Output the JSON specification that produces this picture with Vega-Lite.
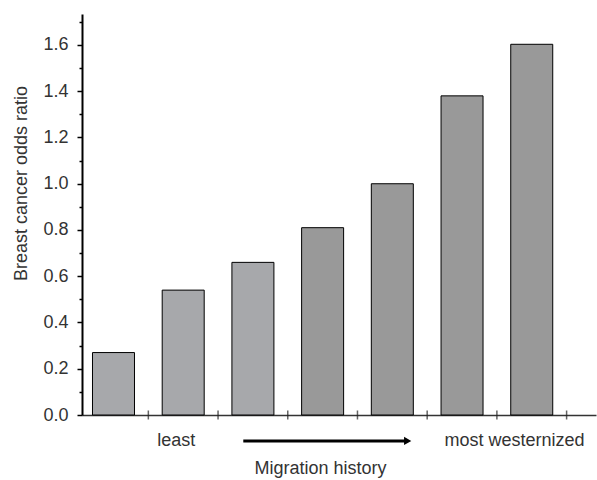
{
  "$schema": "https://vega.github.io/schema/vega-lite/v6.json",
  "width": 514,
  "height": 401,
  "autosize": {"type": "none"},
  "padding": {"left": 82, "top": 14, "right": 1, "bottom": 65},
  "background": "white",
  "config": {"view": {"stroke": null}, "font": "Liberation Sans"},
  "datasets": {
    "bars": [
      {"pos": 1, "ratio": 0.27, "tone": "light"},
      {"pos": 2, "ratio": 0.54, "tone": "light"},
      {"pos": 3, "ratio": 0.66, "tone": "light"},
      {"pos": 4, "ratio": 0.81, "tone": "dark"},
      {"pos": 5, "ratio": 1.0, "tone": "dark"},
      {"pos": 6, "ratio": 1.38, "tone": "dark"},
      {"pos": 7, "ratio": 1.603, "tone": "dark"}
    ],
    "xticks": [
      {"t": 1.5}, {"t": 2.5}, {"t": 3.5}, {"t": 4.5}, {"t": 5.5}, {"t": 6.5}, {"t": 7.5}
    ],
    "minor": [
      {"m": 0.1}, {"m": 0.3}, {"m": 0.5}, {"m": 0.7}, {"m": 0.9}, {"m": 1.1}, {"m": 1.3}, {"m": 1.5}, {"m": 1.7}
    ],
    "labels": [
      {"lx": 1.9, "ly": -0.133, "txt": "least"},
      {"lx": 6.753, "ly": -0.133, "txt": "most westernized"}
    ],
    "arrow": [
      {"a1": 2.862, "a2": 5.2, "ay": -0.112}
    ],
    "head": [
      {"hx": 5.22, "hy": -0.112}
    ]
  },
  "resolve": {"scale": {"y": "shared"}, "axis": {"y": "independent"}},
  "layer": [
    {
      "data": {"name": "bars"},
      "mark": {"type": "bar", "width": 42, "stroke": "black", "strokeWidth": 1},
      "encoding": {
        "x": {
          "field": "pos", "type": "quantitative",
          "scale": {"domain": [0.62, 7.85], "nice": false, "zero": false},
          "axis": {
            "title": "Migration history",
            "ticks": false, "labels": false, "grid": false,
            "domainColor": "#333", "domainWidth": 1.5,
            "titleFont": "Liberation Sans", "titleFontSize": 18, "titleFontWeight": "normal",
            "titleColor": "#333", "titleX": 238, "titleY": 58, "titleBaseline": "alphabetic"
          }
        },
        "y": {
          "field": "ratio", "type": "quantitative",
          "scale": {"domain": [0, 1.734], "nice": false, "zero": true},
          "axis": {
            "orient": "left",
            "values": [0, 0.2, 0.4, 0.6, 0.8, 1.0, 1.2, 1.4, 1.6],
            "format": ".1f", "grid": false,
            "tickSize": 5, "tickColor": "black", "tickWidth": 1.5,
            "domainColor": "black", "domainWidth": 2,
            "labelFont": "Liberation Sans", "labelFontSize": 18, "labelColor": "#333", "labelPadding": 9,
            "title": "Breast cancer odds ratio",
            "titleFont": "Liberation Sans", "titleFontSize": 18, "titleFontWeight": "normal", "titleColor": "#333",
            "titleX": -61, "titleY": 169, "titleBaseline": "middle", "titleAlign": "center", "titleAngle": -90
          }
        },
        "color": {
          "field": "tone", "type": "nominal",
          "scale": {"domain": ["light", "dark"], "range": ["#a7a8ab", "#999999"]},
          "legend": null
        }
      }
    },
    {
      "data": {"name": "minor"},
      "mark": {"type": "point", "opacity": 0},
      "encoding": {
        "y": {
          "field": "m", "type": "quantitative",
          "scale": {"domain": [0, 1.734], "nice": false, "zero": true},
          "axis": {
            "orient": "left", "values": [0.1, 0.3, 0.5, 0.7, 0.9, 1.1, 1.3, 1.5, 1.7],
            "labels": false, "domain": false, "grid": false, "title": null,
            "tickSize": 3, "tickColor": "black", "tickWidth": 1.5
          }
        }
      }
    },
    {
      "data": {"name": "xticks"},
      "mark": {"type": "tick", "orient": "vertical", "size": 9, "thickness": 1.5, "color": "#222"},
      "encoding": {
        "x": {"field": "t", "type": "quantitative", "scale": {"domain": [0.62, 7.85], "nice": false, "zero": false}},
        "y": {"datum": 0, "type": "quantitative", "scale": {"domain": [0, 1.734], "nice": false, "zero": true}, "axis": null}
      }
    },
    {
      "data": {"name": "labels"},
      "mark": {"type": "text", "font": "Liberation Sans", "fontSize": 18, "color": "#333", "baseline": "alphabetic", "align": "center"},
      "encoding": {
        "x": {"field": "lx", "type": "quantitative", "scale": {"domain": [0.62, 7.85], "nice": false, "zero": false}},
        "y": {"field": "ly", "type": "quantitative", "scale": {"domain": [0, 1.734], "nice": false, "zero": true}, "axis": null},
        "text": {"field": "txt"}
      }
    },
    {
      "data": {"name": "arrow"},
      "mark": {"type": "rule", "strokeWidth": 3, "color": "black"},
      "encoding": {
        "x": {"field": "a1", "type": "quantitative", "scale": {"domain": [0.62, 7.85], "nice": false, "zero": false}},
        "x2": {"field": "a2"},
        "y": {"field": "ay", "type": "quantitative", "scale": {"domain": [0, 1.734], "nice": false, "zero": true}, "axis": null}
      }
    },
    {
      "data": {"name": "head"},
      "mark": {"type": "point", "shape": "triangle-right", "filled": true, "size": 70, "color": "black", "opacity": 1},
      "encoding": {
        "x": {"field": "hx", "type": "quantitative", "scale": {"domain": [0.62, 7.85], "nice": false, "zero": false}},
        "y": {"field": "hy", "type": "quantitative", "scale": {"domain": [0, 1.734], "nice": false, "zero": true}, "axis": null}
      }
    }
  ]
}
